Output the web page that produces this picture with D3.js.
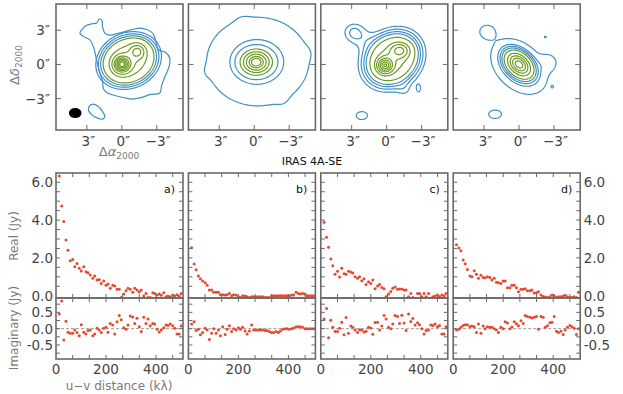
<!DOCTYPE html>
<html>
<head>
<meta charset="utf-8">
<title>IRAS 4A-SE</title>
<script src="https://d3js.org/d3.v7.min.js"></script>
<style>
  body { margin: 0; background: #fff; }
  text { font-family: "DejaVu Sans", sans-serif; }
  .frame { fill: none; stroke: #6a6a6a; stroke-width: 1.6px; }
  .tick { stroke: #6a6a6a; stroke-width: 1px; }
  .ticklabel { font-size: 13.5px; fill: #444; }
  .axlabel { font-size: 12px; fill: #7a7a7a; }
  .dot { fill: #e6492f; }
  .zero { stroke: #999; stroke-width: 1px; stroke-dasharray: 3,2; }
</style>
</head>
<body>
<script>
// --- visibility data (binned in u-v distance, k lambda) ---
var uvDist = [13, 23, 31, 40, 48, 57, 67, 75, 84, 93, 101, 111, 120, 128, 137, 147, 155, 164, 173, 181,
  191, 200, 208, 217, 227, 235, 244, 253, 261, 271, 280, 288, 297, 307, 315, 324, 333, 341, 351, 360,
  368, 377, 387, 395, 404, 413, 421, 431, 440, 448, 457, 467, 475, 484, 493, 501];

var realA = [6.33, 4.74, 3.92, 2.95, 2.40, 1.85, 1.92, 1.53, 1.71, 1.45, 1.31, 1.53, 1.27, 1.22, 1.09, 0.92, 1.04, 0.83, 0.86, 0.65,
  0.78, 0.56, 0.62, 0.39, 0.56, 0.51, 0.34, 0.34, -0.10, 0.09, 0.26, 0.39, 0.34, 0.19, 0.39, 0.30, 0.21, 0.30, -0.02, 0.12,
  -0.10, -0.09, 0.16, 0.12, 0.04, 0.09, 0.02, 0.16, -0.05, -0.02, -0.05, 0.04, -0.02, 0.05, -0.02, 0.12];
var imagA = [0.45, 0.85, -0.35, 0.23, -0.11, -0.14, -0.14, -0.04, -0.12, -0.22, 0.12, -0.11, -0.16, -0.06, -0.04, -0.22, -0.16, 0.01, -0.04, -0.12,
  0.01, 0.04, -0.11, 0.16, 0.11, -0.16, 0.21, 0.40, 0.27, 0.03, -0.02, 0.11, 0.39, 0.36, 0.16, 0.32, 0.06, -0.09, 0.35, 0.16,
  0.30, 0.09, 0.16, 0.14, -0.02, -0.10, -0.04, 0.03, 0.11, 0.10, 0.14, 0.09, 0.01, -0.16, -0.16, 0.09];

var realB = [2.54, 1.68, 1.38, 1.04, 0.90, 0.78, 0.69, 0.55, 0.30, 0.30, 0.19, 0.19, 0.18, 0.05, 0.05, 0.04, 0.05, 0.12, 0.00, 0.05,
  0.04, -0.05, -0.09, 0.00, -0.02, -0.05, -0.09, -0.05, -0.05, -0.05, -0.05, -0.05, -0.05, -0.09, -0.09, -0.09, 0.00, 0.00, 0.00, 0.00,
  0.00, 0.00, 0.00, 0.00, 0.00, 0.04, 0.04, 0.19, 0.12, 0.09, 0.12, 0.09, 0.00, 0.00, 0.00, 0.00];
var imagB = [0.14, 0.21, -0.06, -0.02, -0.19, -0.12, 0.01, -0.04, -0.33, -0.14, 0.00, -0.14, -0.04, -0.22, 0.06, -0.18, -0.02, 0.09, -0.09, 0.00,
  -0.04, 0.03, -0.02, 0.04, -0.07, -0.16, -0.07, 0.11, -0.04, -0.04, -0.04, -0.04, -0.04, -0.06, -0.06, -0.09, -0.12, -0.12, -0.09, -0.12,
  -0.07, -0.02, 0.00, 0.00, -0.02, 0.00, 0.02, 0.06, 0.06, 0.06, 0.04, 0.00, 0.00, 0.00, 0.00, 0.00];

var realC = [3.88, 3.09, 2.56, 1.94, 1.59, 1.13, 1.29, 0.99, 1.45, 1.16, 1.13, 1.29, 1.25, 1.20, 1.01, 0.93, 1.01, 0.79, 0.90, 0.60,
  0.74, 0.65, 0.83, 0.37, 0.51, 0.60, 0.44, 0.37, -0.05, 0.09, 0.23, 0.39, 0.46, 0.34, 0.35, 0.35, 0.30, 0.30, -0.05, 0.12,
  -0.10, -0.14, 0.12, 0.12, -0.05, 0.12, -0.05, 0.12, -0.14, -0.05, -0.02, 0.04, -0.05, 0.04, 0.00, 0.12];
var imagC = [0.30, 0.62, -0.28, 0.26, 0.04, -0.09, -0.09, 0.01, 0.20, -0.19, 0.34, -0.14, 0.08, 0.04, -0.04, -0.12, -0.03, -0.04, -0.10, -0.08,
  0.04, 0.02, -0.17, 0.19, 0.20, -0.04, 0.08, 0.40, 0.30, 0.04, 0.00, 0.14, 0.40, 0.37, 0.16, 0.41, 0.17, -0.06, 0.45, 0.22,
  0.31, 0.11, 0.18, 0.12, 0.00, -0.16, -0.06, -0.04, 0.11, 0.10, 0.14, 0.06, 0.10, -0.16, -0.16, 0.06];

var realD = [2.70, 2.52, 2.38, 1.89, 1.69, 1.39, 1.04, 1.01, 1.32, 1.13, 0.92, 1.08, 0.97, 0.95, 1.01, 0.97, 0.83, 0.92, 0.71, 0.69,
  0.65, 0.78, 0.78, 0.42, 0.42, 0.55, 0.55, 0.42, 0.21, 0.34, 0.34, 0.37, 0.26, 0.26, 0.30, 0.14, 0.16, 0.21, 0.04, -0.04,
  -0.07, -0.09, -0.05, 0.04, 0.00, -0.10, -0.05, -0.05, -0.02, 0.02, -0.05, -0.10, -0.10, -0.05, -0.10, 0.19];
var imagD = [-0.04, -0.02, 0.04, 0.10, 0.12, 0.12, 0.06, 0.08, 0.06, -0.12, 0.14, -0.14, 0.08, 0.00, 0.06, 0.04, 0.04, 0.00, -0.04, -0.12,
  0.04, 0.00, 0.21, 0.17, 0.00, 0.05, 0.21, 0.15, 0.09, 0.24, 0.16, 0.40, 0.37, 0.35, 0.33, 0.35, 0.37, -0.02, 0.37, 0.35,
  0.04, 0.09, 0.18, 0.20, 0.37, -0.08, -0.12, -0.08, -0.18, -0.04, 0.04, 0.10, 0.06, 0.01, -0.18, 0.00];

// --- image models: gaussian components [x0("), y0("), amp, sx, sy, angle(deg)] ---
var mapA = [[0, 0, 0.9, 0.45, 0.45, 0], [-1.34, 1.14, 0.4, 0.4, 0.4, 0], [-0.6, 0.35, 0.5, 1.9, 1.55, 150],
  [-0.5, 0.3, 0.1, 2.4, 2.1, 0]];
var mapB = [[-0.17, 0.2, 1.0, 0.75, 0.62, 0], [-0.3, 0.25, 0.08, 2.2, 1.95, 0],
  [3.9, -0.6, 0.004, 0.4, 0.4, 0], [-4.5, 1.0, 0.003, 0.5, 0.5, 0], [1.0, 3.9, 0.003, 0.5, 0.4, 0], [-2.5, -3.3, 0.003, 0.5, 0.5, 0]];
var mapC = [[0.14, -0.09, 0.9, 0.42, 0.42, 0], [-1.14, 1.23, 0.45, 0.5, 0.4, 0], [-0.5, 0.5, 0.42, 1.65, 1.35, 135],
  [-0.35, 0.3, 0.08, 2.3, 2.2, 0], [-1.6, -2.4, 0.04, 0.5, 0.5, 0], [2.86, 2.84, 0.122, 0.9, 0.85, 0],
  [2.14, -4.5, 0.12, 0.7, 0.5, 0], [-2.77, -2.16, 0.08, 0.21, 0.39, 0]];
var mapD = [[0, 0, 1.0, 0.75, 0.5, 45], [0, -0.2, 0.12, 1.9, 1.3, 45], [-2.6, 0.2, 0.05, 0.55, 0.55, 0],
  [2.77, 2.9, 0.06, 0.55, 0.5, 0], [2.06, -4.37, 0.06, 0.6, 0.4, 0], [-2.26, 2.4, 0.045, 0.15, 0.1, 0],
  [-2.86, -1.95, 0.045, 0.08, 0.08, 0]];

// lowest contour of map a, traced as outlines (arcsec)
var outerA = [[3.6, 2.75], [3.43, 3.04], [3.09, 3.39], [2.57, 3.57], [2.17, 3.63], [1.94, 3.98], [1.71, 3.86],
  [1.66, 3.33], [1.46, 2.75], [1.09, 2.57], [0.23, 2.75], [-0.63, 2.98], [-1.49, 3.19], [-2.2, 3.04],
  [-2.69, 2.69], [-2.91, 2.02], [-3.14, 1.29], [-3.77, 1.05], [-4.11, 0.56], [-4.06, -0.18], [-3.77, -0.91],
  [-3.43, -1.78], [-3.26, -2.51], [-2.49, -2.63], [-1.71, -2.89], [-0.91, -3.04], [-0.2, -2.92], [0.51, -2.75],
  [1.23, -2.51], [1.57, -2.16], [1.66, -1.49], [1.94, -0.61], [2.17, 0.41], [2.4, 1.43], [2.74, 2.16], [3.31, 2.46]];
var blobA = [[2.8, -3.68], [2.51, -3.48], [2.09, -3.63], [1.66, -4.12], [1.46, -4.56], [1.66, -4.8],
  [2.09, -4.71], [2.57, -4.42], [2.86, -4.04]];

var levelsA = [0.2, 0.235, 0.27, 0.31, 0.45, 0.6, 0.79, 0.95, 1.1, 1.25, 1.37];
var levelsB = [0.011, 0.055, 0.105, 0.245, 0.41, 0.6, 0.8, 0.94];
var levelsC = [0.1, 0.13, 0.16, 0.19, 0.25, 0.4, 0.55, 0.75, 0.95, 1.15, 1.3];
var levelsD = [0.04, 0.08, 0.11, 0.15, 0.22, 0.4, 0.6, 0.8, 1.0];
var blueCount = [3, 3, 4, 4];

var mapTicks = [3, 0, -3];
var mapTickLabels = ["3\u2033", "0\u2033", "\u22123\u2033"];
var uvTicks = [66.7, 133.3, 200, 266.7, 333.3, 400, 466.7];
var uvLabelTicks = [0, 200, 400];
var realTicks = [0.5, 1, 1.5, 2, 2.5, 3, 3.5, 4, 4.5, 5, 5.5, 6];
var realLabelTicks = [0, 2, 4, 6];
var imagTicks = [-0.75, -0.5, -0.25, 0, 0.25, 0.5, 0.75];
var imagLabelTicks = [-0.5, 0, 0.5];
var panelNames = ["a)", "b)", "c)", "d)"];

// --- layout ---
var panelLeft = [56, 188.4, 320.8, 453.2], panelW = 127;
var mapTop = 4, mapH = 126, reTop = 173, reH = 125, imTop = 298, imH = 61;
var blue = "#3f8fc6", green = "#6b9a1e";

var svg = d3.select("body").append("svg").attr("width", 623).attr("height", 394);
var defs = svg.append("defs");
[["clipMap", mapH], ["clipRe", reH], ["clipIm", imH]].forEach(function (c) {
  defs.append("clipPath").attr("id", c[0]).append("rect").attr("width", panelW).attr("height", c[1]);
});

var mapX = d3.scaleLinear().domain([5.65, -5.25]).range([0, panelW]);
var mapY = d3.scaleLinear().domain([-5.75, 5.3]).range([mapH, 0]);
var uvX = d3.scaleLinear().domain([0, 508]).range([0, panelW]);
var reY = d3.scaleLinear().domain([-0.12, 6.49]).range([reH, 0]);
var imY = d3.scaleLinear().domain([-0.93, 0.94]).range([imH, 0]);

var nx = 127, ny = 126;
function sampleField(comps) {
  var values = new Array(nx * ny);
  for (var j = 0; j < ny; j++) {
    var y = mapY.invert((j + 0.5) * mapH / ny);
    for (var i = 0; i < nx; i++) {
      var x = mapX.invert((i + 0.5) * panelW / nx);
      var s = 0;
      comps.forEach(function (c) {
        var t = c[5] * Math.PI / 180, dx = x - c[0], dy = y - c[1];
        var u = dx * Math.cos(t) + dy * Math.sin(t), v = -dx * Math.sin(t) + dy * Math.cos(t);
        s += c[2] * Math.exp(-0.5 * (u * u / (c[3] * c[3]) + v * v / (c[4] * c[4])));
      });
      values[j * nx + i] = s;
    }
  }
  return values;
}
var gridPath = d3.geoPath(d3.geoTransform({
  point: function (x, y) { this.stream.point(x * panelW / nx, y * mapH / ny); }
}));
var outline = d3.line().x(function (d) { return mapX(d[0]); }).y(function (d) { return mapY(d[1]); })
  .curve(d3.curveCatmullRomClosed.alpha(0.5));

function ticks(g, xs, ys, xt, yt, w, h, len) {
  xt.forEach(function (t) {
    var x = xs(t);
    g.append("line").attr("class", "tick").attr("x1", x).attr("x2", x).attr("y1", 0).attr("y2", len);
    g.append("line").attr("class", "tick").attr("x1", x).attr("x2", x).attr("y1", h).attr("y2", h - len);
  });
  yt.forEach(function (t) {
    var y = ys(t);
    g.append("line").attr("class", "tick").attr("x1", 0).attr("x2", len).attr("y1", y).attr("y2", y);
    g.append("line").attr("class", "tick").attr("x1", w).attr("x2", w - len).attr("y1", y).attr("y2", y);
  });
}
function frame(g, h) {
  g.append("rect").attr("class", "frame").attr("width", panelW).attr("height", h);
}
function fmt(v) { return v.toFixed(1); }

// --- contour maps ---
var maps = [mapA, mapB, mapC, mapD], levels = [levelsA, levelsB, levelsC, levelsD];
maps.forEach(function (comps, k) {
  var g = svg.append("g").attr("transform", "translate(" + panelLeft[k] + "," + mapTop + ")");
  var inner = g.append("g").attr("clip-path", "url(#clipMap)");
  var cs = d3.contours().size([nx, ny]).thresholds(levels[k])(sampleField(comps));
  inner.selectAll("path.lvl").data(cs).enter().append("path")
    .attr("class", "lvl")
    .attr("d", gridPath)
    .attr("fill", "none")
    .attr("stroke", function (d, i) { return i < blueCount[k] ? blue : green; })
    .attr("stroke-width", 1.2);
  if (k === 0) {
    [outerA, blobA].forEach(function (pts) {
      inner.append("path").attr("d", outline(pts)).attr("fill", "none").attr("stroke", blue).attr("stroke-width", 1.2);
    });
    inner.append("ellipse").attr("cx", mapX(4.0)).attr("cy", mapY(-4.27)).attr("rx", 6.3).attr("ry", 5).attr("fill", "#000");
    mapTicks.forEach(function (t, i) {
      g.append("text").attr("class", "ticklabel").attr("x", -6).attr("y", mapY(t)).attr("dy", "0.36em")
        .attr("text-anchor", "end").text(mapTickLabels[i]);
    });
  }
  mapTicks.forEach(function (t, i) {
    g.append("text").attr("class", "ticklabel").attr("x", mapX(t) + 1.5).attr("y", mapH + 16)
      .attr("text-anchor", "middle").text(mapTickLabels[i]);
  });
  ticks(g, mapX, mapY, mapTicks, mapTicks, panelW, mapH, 5);
  frame(g, mapH);
});

// --- visibility panels ---
var reals = [realA, realB, realC, realD], imags = [imagA, imagB, imagC, imagD];
reals.forEach(function (re, k) {
  var g = svg.append("g").attr("transform", "translate(" + panelLeft[k] + "," + reTop + ")");
  g.append("g").attr("clip-path", "url(#clipRe)").selectAll("circle").data(re).enter().append("circle")
    .attr("class", "dot").attr("r", 1.5)
    .attr("cx", function (d, i) { return uvX(uvDist[i]); })
    .attr("cy", function (d) { return reY(d); });
  ticks(g, uvX, reY, uvTicks, realTicks, panelW, reH, 4);
  g.append("text").attr("x", panelW - 8).attr("y", 20).attr("text-anchor", "end")
    .style("font-size", "11px").attr("fill", "#111").text(panelNames[k]);
  if (k === 0 || k === 3) {
    realLabelTicks.forEach(function (t) {
      g.append("text").attr("class", "ticklabel")
        .attr("x", k === 0 ? -3 : panelW + 3.5).attr("y", reY(t)).attr("dy", "0.36em")
        .attr("text-anchor", k === 0 ? "end" : "start").text(fmt(t));
    });
  }
  frame(g, reH);
});
imags.forEach(function (im, k) {
  var g = svg.append("g").attr("transform", "translate(" + panelLeft[k] + "," + imTop + ")");
  g.append("line").attr("class", "zero").attr("x1", 0).attr("x2", panelW).attr("y1", imY(0)).attr("y2", imY(0));
  g.append("g").attr("clip-path", "url(#clipIm)").selectAll("circle").data(im).enter().append("circle")
    .attr("class", "dot").attr("r", 1.5)
    .attr("cx", function (d, i) { return uvX(uvDist[i]); })
    .attr("cy", function (d) { return imY(d); });
  ticks(g, uvX, imY, uvTicks, imagTicks, panelW, imH, 4);
  if (k === 0 || k === 3) {
    imagLabelTicks.forEach(function (t) {
      g.append("text").attr("class", "ticklabel")
        .attr("x", k === 0 ? -3 : panelW + 3.5).attr("y", imY(t)).attr("dy", "0.36em")
        .attr("text-anchor", k === 0 ? "end" : "start").text(fmt(t));
    });
  }
  uvLabelTicks.forEach(function (t) {
    g.append("text").attr("class", "ticklabel").attr("x", uvX(t)).attr("y", imH + 15)
      .attr("text-anchor", "middle").text(t);
  });
  frame(g, imH);
});

// --- labels ---
function mathLabel(sel, sym) {
  sel.append("tspan").text("\u0394");
  sel.append("tspan").style("font-style", "italic").text(sym);
  sel.append("tspan").attr("baseline-shift", "-30%").style("font-size", "9px").text("2000");
}
mathLabel(svg.append("text").attr("class", "axlabel").style("font-size", "13px")
  .attr("transform", "translate(19,65) rotate(-90)").attr("text-anchor", "middle"), "\u03b4");
mathLabel(svg.append("text").attr("class", "axlabel").style("font-size", "13px")
  .attr("x", 119).attr("y", 156).attr("text-anchor", "middle"), "\u03b1");
svg.append("text").attr("x", 312).attr("y", 165).attr("text-anchor", "middle")
  .style("font-size", "11px").attr("fill", "#111").text("IRAS 4A-SE");
svg.append("text").attr("class", "axlabel").attr("transform", "translate(18,236) rotate(-90)")
  .attr("text-anchor", "middle").text("Real (Jy)");
svg.append("text").attr("class", "axlabel").attr("transform", "translate(18,328) rotate(-90)")
  .attr("text-anchor", "middle").text("Imaginary (Jy)");
svg.append("text").attr("class", "axlabel").attr("x", 119).attr("y", 390)
  .attr("text-anchor", "middle").text("u\u2212v distance (k\u03bb)");
</script>
</body>
</html>
